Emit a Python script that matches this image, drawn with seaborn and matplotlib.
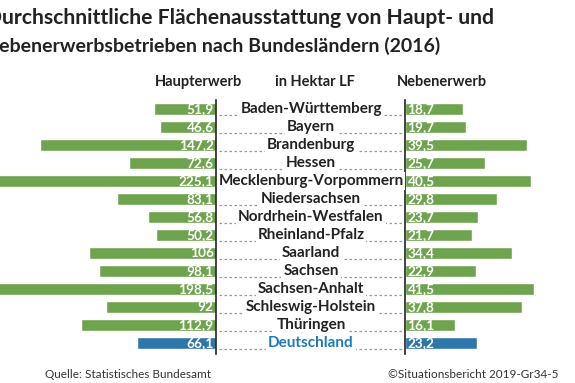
import pandas as pd
import matplotlib.pyplot as plt
import seaborn as sns

# data (hectares per farm, 2016)
laender = ['Baden-Württemberg', 'Bayern', 'Brandenburg', 'Hessen',
           'Mecklenburg-Vorpommern', 'Niedersachsen', 'Nordrhein-Westfalen',
           'Rheinland-Pfalz', 'Saarland', 'Sachsen', 'Sachsen-Anhalt',
           'Schleswig-Holstein', 'Thüringen', 'Deutschland']
haupterwerb = [51.9, 46.6, 147.2, 72.6, 225.1, 83.1, 56.8, 50.2, 106,
               98.1, 198.5, 92, 112.9, 66.1]
nebenerwerb = [18.7, 19.7, 39.5, 25.7, 40.5, 29.8, 23.7, 21.7, 34.4,
               22.9, 41.5, 37.8, 16.1, 23.2]

GREEN = '#6cb33f'
BLUE = '#1a7bbf'
DARK = '#222222'

df = pd.DataFrame({
    'land': laender,
    'haupt': haupterwerb,
    'neben': nebenerwerb,
    'typ': ['Deutschland' if l == 'Deutschland' else 'Land' for l in laender],
})
palette = {'Land': GREEN, 'Deutschland': BLUE}

sns.set_theme(style='white')
plt.rcParams['font.family'] = ['Lato', 'DejaVu Sans']

W, H = 575, 383
fig = plt.figure(figsize=(W / 100, H / 100), dpi=100)
fig.patch.set_facecolor('white')

# row geometry in pixels
row0, step = 109, 17.98
y_top, y_bot = -0.5, 13.6
ax_top_px = row0 + y_top * step
ax_bot_px = row0 + y_bot * step
ax_h = (ax_bot_px - ax_top_px) / H
ax_b = (H - ax_bot_px) / H

left_px, right_px = 216, 405
ax_l = fig.add_axes([0, ax_b, left_px / W, ax_h])
ax_r = fig.add_axes([right_px / W, ax_b, (W - right_px) / W, ax_h])

sns.barplot(data=df, y='land', x='haupt', hue='typ', palette=palette,
            dodge=False, width=0.66, orient='h', legend=False, ax=ax_l)
sns.barplot(data=df, y='land', x='neben', hue='typ', palette=palette,
            dodge=False, width=0.66, orient='h', legend=False, ax=ax_r)

ax_l.set_xlim(left_px / 1.196, 0)
ax_r.set_xlim(0, (W - right_px) / 3.10)
for ax in (ax_l, ax_r):
    ax.set_ylim(y_bot, y_top)
    ax.set_xlabel('')
    ax.set_ylabel('')
    ax.set_xticks([])
    ax.set_yticks([])
    ax.patch.set_alpha(0)
    for s in ax.spines.values():
        s.set_visible(False)
ax_l.spines['right'].set_visible(True)
ax_r.spines['left'].set_visible(True)
for s in (ax_l.spines['right'], ax_r.spines['left']):
    s.set_color(DARK)
    s.set_linewidth(1.2)

# value labels inside the bars
for i, (h, n) in enumerate(zip(haupterwerb, nebenerwerb)):
    ax_l.text(2, i, f'{h:g}'.replace('.', ','), ha='right', va='center',
              color='white', fontsize=9.8, fontweight='bold')
    ax_r.text(0.8, i, f'{n:g}'.replace('.', ','), ha='left', va='center',
              color='white', fontsize=9.8, fontweight='bold')

# state names in the middle with dotted leader lines
def fig_y(row):
    return (H - (row0 + row * step)) / H

for i, land in enumerate(laender):
    col = BLUE if land == 'Deutschland' else DARK
    yl = fig_y(i + 0.33)
    fig.add_artist(plt.Line2D([left_px / W + 0.005, right_px / W - 0.005], [yl, yl],
                              transform=fig.transFigure, color='#999999',
                              lw=0.9, ls=(0, (2, 2))))
    fig.text(311 / W, fig_y(i), land, ha='center', va='center', color=col,
             fontsize=11, fontweight='bold',
             bbox=dict(boxstyle='square,pad=0.12', fc='white', ec='none'))

# column headers
hy = (H - 82) / H
fig.text(198 / W, hy, 'Haupterwerb', ha='center', va='center', color=DARK,
         fontsize=10.5, fontweight='bold')
fig.text(315 / W, hy, 'in Hektar LF', ha='center', va='center', color=DARK,
         fontsize=10.5, fontweight='bold')
fig.text(442 / W, hy, 'Nebenerwerb', ha='center', va='center', color=DARK,
         fontsize=10.5, fontweight='bold')

# title (left edge cut off like in the original picture)
fig.text(-14 / W, (H - 18) / H, 'Durchschnittliche Flächenausstattung von Haupt- und',
         ha='left', va='center', color=DARK, fontsize=15.2, fontweight='bold')
fig.text(-15.5 / W, (H - 46) / H, 'Nebenerwerbsbetrieben nach Bundesländern (2016)',
         ha='left', va='center', color=DARK, fontsize=14, fontweight='bold')

# footer
fig.text(45 / W, (H - 374) / H, 'Quelle: Statistisches Bundesamt', ha='left',
         va='center', color='#333333', fontsize=8.5)
fig.text(558 / W, (H - 374) / H, '©Situationsbericht 2019-Gr34-5', ha='right',
         va='center', color='#333333', fontsize=8.5)

fig.savefig('out.png', dpi=100, facecolor='white')
